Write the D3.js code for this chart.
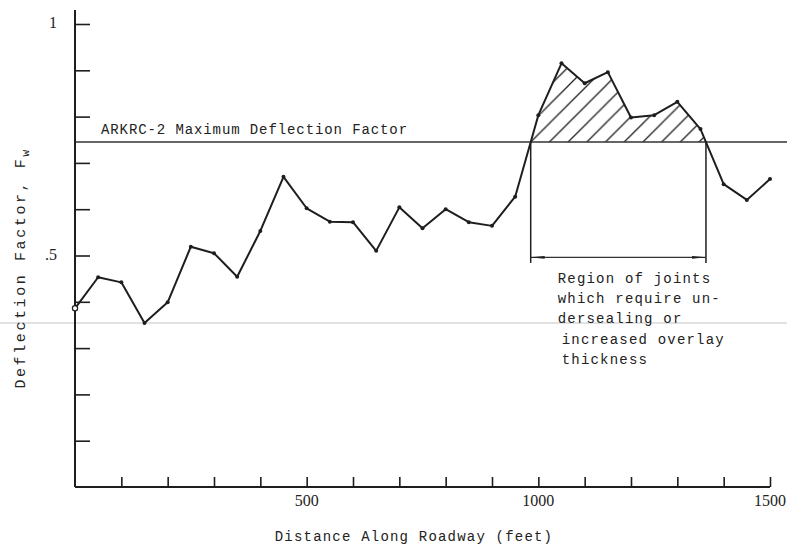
<!DOCTYPE html>
<html><head><meta charset="utf-8">
<script src="https://cdn.jsdelivr.net/npm/d3@7"></script>
<style>
html,body{margin:0;padding:0;background:#fff;}
svg{display:block;}
.mono{font-family:"Liberation Mono","DejaVu Sans Mono",monospace;fill:#222;}
.num{font-family:"Liberation Serif","DejaVu Serif",serif;fill:#222;}
</style></head>
<body>
<svg id="chart" width="787" height="550"></svg>
<script>
// ---- data ----
const distanceFt = [0,50,100,150,200,250,300,350,400,450,500,550,600,650,700,750,800,850,900,950,1000,1050,1100,1150,1200,1250,1300,1350,1400,1450,1500];
const deflection = [0.386,0.453,0.442,0.354,0.399,0.519,0.505,0.454,0.553,0.670,0.602,0.573,0.572,0.510,0.604,0.559,0.600,0.572,0.564,0.627,0.803,0.915,0.872,0.896,0.798,0.803,0.832,0.773,0.654,0.620,0.665];
const maxDeflection = 0.745;
const maxLabel = "ARKRC-2 Maximum Deflection Factor";
const xTickValues = [100,200,300,400,500,600,700,800,900,1000,1100,1200,1300,1400,1500];
const xLabelValues = [500,1000,1500];
const yTickValues = [0.1,0.2,0.3,0.4,0.5,0.6,0.7,0.8,0.9,1.0];
const yLabelValues = [0.5,1];
const yLabelTexts = [".5","1"];
const xTitle = "Distance Along Roadway (feet)";
const yTitle = "Deflection Factor, F";
const yTitleSub = "w";
const noteLines = ["Region of joints","which require un-","dersealing or","increased overlay","thickness"];

// ---- layout ----
const W = 787, H = 550;
const svg = d3.select("#chart");
const x = d3.scaleLinear().domain([0,1500]).range([75,770]);
const y = d3.scaleLinear().domain([0,1]).range([487,24]);
const ink = "#1e1e1e";

// faint scan line
svg.append("line").attr("x1",0).attr("x2",W).attr("y1",323).attr("y2",323)
  .attr("stroke","#e2e2e2").attr("stroke-width",2);

// hatch pattern
const pts = distanceFt.map((d,i)=>({d:d,v:deflection[i]}));
const aug = [];
for (let i=0;i<pts.length;i++){
  aug.push(pts[i]);
  if (i<pts.length-1){
    const a=pts[i], b=pts[i+1];
    if ((a.v-maxDeflection)*(b.v-maxDeflection)<0){
      const t=(maxDeflection-a.v)/(b.v-a.v);
      aug.push({d:a.d+t*(b.d-a.d), v:maxDeflection, cross:true});
    }
  }
}
const crosses = aug.filter(p=>p.cross);
const s = 18.7;
const defs = svg.append("defs");
const pat = defs.append("pattern").attr("id","hatch").attr("patternUnits","userSpaceOnUse")
  .attr("width",s).attr("height",s).attr("x",x(crosses[0].d)).attr("y",y(maxDeflection));
pat.append("path").attr("d",`M${-s/2},${s/2} L${s/2},${-s/2} M0,${s} L${s},0 M${s/2},${s*1.5} L${s*1.5},${s/2}`)
  .attr("stroke",ink).attr("stroke-width",1.3);
defs.append("marker").attr("id","arr").attr("viewBox","0 0 14 6").attr("refX",14).attr("refY",3)
  .attr("markerWidth",14).attr("markerHeight",6).attr("markerUnits","userSpaceOnUse").attr("orient","auto-start-reverse")
  .append("path").attr("d","M0,1.6 L14,3 L0,4.4 Z").attr("fill",ink);

const area = d3.area().x(p=>x(p.d)).y0(y(maxDeflection)).y1(p=>y(Math.max(p.v,maxDeflection)));
svg.append("path").datum(aug).attr("d",area).attr("fill","url(#hatch)");

// max deflection line
svg.append("line").attr("x1",x(0)).attr("x2",W).attr("y1",y(maxDeflection)).attr("y2",y(maxDeflection))
  .attr("stroke","#333").attr("stroke-width",1.6);
svg.append("text").attr("class","mono").attr("x",101).attr("y",y(maxDeflection)-8)
  .attr("font-size",14).attr("letter-spacing",0.9).text(maxLabel);

// axes
const xAxis = d3.axisBottom(x).tickValues(xTickValues).tickSize(-10).tickFormat("");
const gx = svg.append("g").attr("transform",`translate(0,${y(0)})`).call(xAxis);
gx.select(".domain").attr("d",`M${x(0)},0H${x(1500)}`).attr("stroke",ink).attr("stroke-width",2);
gx.selectAll(".tick line").attr("stroke",ink).attr("stroke-width",1.6);

const yAxis = d3.axisLeft(y).tickValues(yTickValues).tickSize(-15).tickFormat("");
const gy = svg.append("g").attr("transform",`translate(${x(0)},0)`).call(yAxis);
gy.select(".domain").attr("d",`M0,10V${y(0)}`).attr("stroke",ink).attr("stroke-width",2);
gy.selectAll(".tick line").attr("stroke",ink).attr("stroke-width",1.6);

svg.selectAll("text.xl").data(xLabelValues).enter().append("text").attr("class","num xl")
  .attr("x",d=>x(d)).attr("y",y(0)+19).attr("text-anchor","middle").attr("font-size",16).text(d=>d);
svg.selectAll("text.yl").data(yLabelValues).enter().append("text").attr("class","num yl")
  .attr("x",x(0)-18).attr("y",d=>y(d)+4).attr("text-anchor","end").attr("font-size",16)
  .text((d,i)=>yLabelTexts[i]);

svg.append("text").attr("class","mono").attr("x",414).attr("y",541).attr("text-anchor","middle")
  .attr("font-size",14).attr("letter-spacing",1.2).text(xTitle);
const yt = svg.append("text").attr("class","mono").attr("transform","translate(25,268) rotate(-90)")
  .attr("text-anchor","middle").attr("font-size",15).attr("letter-spacing",2.6);
yt.append("tspan").text(yTitle);
yt.append("tspan").attr("dy",4).attr("font-size",11).text(yTitleSub);

// data line
const line = d3.line().x(p=>x(p.d)).y(p=>y(p.v));
svg.append("path").datum(pts).attr("d",line).attr("fill","none").attr("stroke",ink).attr("stroke-width",2).attr("stroke-linejoin","round");
svg.selectAll("circle.pt").data(pts).enter().append("circle").attr("class","pt")
  .attr("cx",p=>x(p.d)).attr("cy",p=>y(p.v)).attr("r",(p,i)=>i===0?2.6:2)
  .attr("fill",(p,i)=>i===0?"#fff":ink).attr("stroke",ink).attr("stroke-width",(p,i)=>i===0?1.2:0);

// annotation
const arrowV = 0.496, vBottom = 0.484;
crosses.forEach(c=>{
  svg.append("line").attr("x1",x(c.d)).attr("x2",x(c.d)).attr("y1",y(maxDeflection)).attr("y2",y(vBottom))
    .attr("stroke",ink).attr("stroke-width",1.5);
});
svg.append("line").attr("x1",x(crosses[0].d)).attr("x2",x(crosses[1].d)).attr("y1",y(arrowV)).attr("y2",y(arrowV))
  .attr("stroke","#333").attr("stroke-width",1.3).attr("marker-start","url(#arr)").attr("marker-end","url(#arr)");
const nx = x(crosses[0].d)+27;
svg.selectAll("text.note").data(noteLines).enter().append("text").attr("class","mono note")
  .attr("x",(d,i)=>i>=3?nx+4:nx).attr("y",(d,i)=>283+i*20.2)
  .attr("font-size",14).attr("letter-spacing",1.2).text(d=>d);
</script>
</body></html>
